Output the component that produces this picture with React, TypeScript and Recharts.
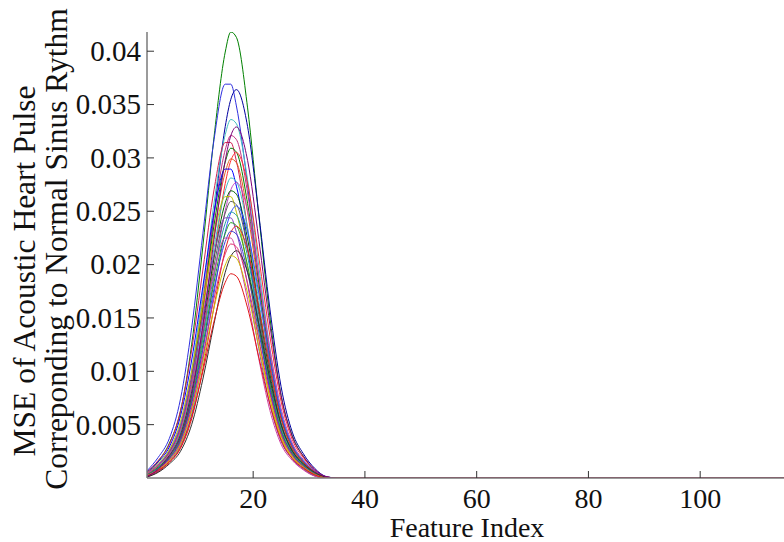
import React from "react";
import { Label, Line, LineChart, XAxis, YAxis } from "recharts";

const featureIndex = [1, 3, 5, 7, 9, 11, 13, 15, 16, 17, 19, 21, 23, 25, 27, 29, 31, 33, 35, 115];

const mse01 = [0.0004, 0.00155, 0.00326, 0.00627, 0.01254, 0.02174, 0.03198, 0.03992, 0.0418, 0.0413, 0.03469, 0.02466, 0.01505, 0.00773, 0.00397, 0.00201, 0.00067, 0.00004, 0, 0];
const mse02 = [0.00067, 0.00193, 0.00371, 0.00742, 0.0141, 0.02289, 0.03172, 0.03691, 0.03691, 0.03487, 0.02745, 0.01836, 0.01039, 0.00519, 0.00271, 0.00122, 0.0003, 0, 0, 0];
const mse03 = [0.00015, 0.00091, 0.00226, 0.0043, 0.00855, 0.01583, 0.02475, 0.03294, 0.03549, 0.0364, 0.03294, 0.02475, 0.01583, 0.00855, 0.0043, 0.00226, 0.00091, 0.00015, 0, 0];
const mse04 = [0.00032, 0.00125, 0.00263, 0.00506, 0.01011, 0.01752, 0.02578, 0.03218, 0.0336, 0.0332, 0.02797, 0.01988, 0.01213, 0.00623, 0.0032, 0.00162, 0.00054, 0.00003, 0, 0];
const mse05 = [0.00013, 0.00082, 0.00204, 0.00388, 0.00773, 0.01431, 0.02237, 0.02977, 0.03208, 0.0329, 0.02977, 0.02237, 0.01431, 0.00773, 0.00388, 0.00204, 0.00082, 0.00013, 0, 0];
const mse06 = [0.00031, 0.00119, 0.00251, 0.00483, 0.00966, 0.01674, 0.02463, 0.03075, 0.0321, 0.03172, 0.02673, 0.019, 0.01159, 0.00596, 0.00306, 0.00155, 0.00052, 0.00003, 0, 0];
const mse07 = [0.00057, 0.00164, 0.00316, 0.00632, 0.01201, 0.0195, 0.02702, 0.03144, 0.03144, 0.0297, 0.02338, 0.01564, 0.00885, 0.00442, 0.00231, 0.00104, 0.00025, 0, 0, 0];
const mse08 = [0.00029, 0.00115, 0.00242, 0.00465, 0.0093, 0.01612, 0.02372, 0.02961, 0.03091, 0.03054, 0.02573, 0.01829, 0.01116, 0.00574, 0.00295, 0.00149, 0.0005, 0.00003, 0, 0];
const mse09 = [0.00012, 0.00076, 0.00189, 0.0036, 0.00717, 0.01327, 0.02074, 0.0276, 0.02974, 0.0305, 0.0276, 0.02074, 0.01327, 0.00717, 0.0036, 0.00189, 0.00076, 0.00012, 0, 0];
const mse10 = [0.00029, 0.00111, 0.00234, 0.0045, 0.009, 0.0156, 0.02295, 0.02865, 0.02991, 0.02955, 0.0249, 0.0177, 0.0108, 0.00555, 0.00285, 0.00144, 0.00048, 0.00003, 0, 0];
const mse11 = [0.00052, 0.00151, 0.00291, 0.00582, 0.01106, 0.01795, 0.02488, 0.02895, 0.02895, 0.02735, 0.02153, 0.0144, 0.00815, 0.00407, 0.00212, 0.00096, 0.00023, 0, 0, 0];
const mse12 = [0.00027, 0.00104, 0.0022, 0.00423, 0.00846, 0.01466, 0.02157, 0.02693, 0.02812, 0.02778, 0.02341, 0.01664, 0.01015, 0.00522, 0.00268, 0.00135, 0.00045, 0.00003, 0, 0];
const mse13 = [0.00011, 0.00069, 0.00172, 0.00327, 0.00651, 0.01205, 0.01884, 0.02507, 0.02701, 0.0277, 0.02507, 0.01884, 0.01205, 0.00651, 0.00327, 0.00172, 0.00069, 0.00011, 0, 0];
const mse14 = [0.00026, 0.001, 0.00211, 0.00405, 0.0081, 0.01404, 0.02066, 0.02579, 0.02692, 0.0266, 0.02241, 0.01593, 0.00972, 0.005, 0.00257, 0.0013, 0.00043, 0.00003, 0, 0];
const mse15 = [0.00048, 0.00138, 0.00265, 0.0053, 0.01007, 0.01635, 0.02266, 0.02637, 0.02637, 0.02491, 0.01961, 0.01312, 0.00742, 0.00371, 0.00193, 0.00087, 0.00021, 0, 0, 0];
const mse16 = [0.00025, 0.00096, 0.00203, 0.0039, 0.0078, 0.01352, 0.01989, 0.02483, 0.02592, 0.02561, 0.02158, 0.01534, 0.00936, 0.00481, 0.00247, 0.00125, 0.00042, 0.00003, 0, 0];
const mse17 = [0.0001, 0.00064, 0.00158, 0.00301, 0.00599, 0.01109, 0.01734, 0.02308, 0.02486, 0.0255, 0.02308, 0.01734, 0.01109, 0.00599, 0.00301, 0.00158, 0.00064, 0.0001, 0, 0];
const mse18 = [0.00024, 0.00093, 0.00195, 0.00375, 0.0075, 0.013, 0.01913, 0.02388, 0.02493, 0.02463, 0.02075, 0.01475, 0.009, 0.00463, 0.00238, 0.0012, 0.0004, 0.00003, 0, 0];
const mse19 = [0.00044, 0.00127, 0.00245, 0.0049, 0.00931, 0.01512, 0.02095, 0.02438, 0.02438, 0.02303, 0.01813, 0.01213, 0.00686, 0.00343, 0.00179, 0.00081, 0.0002, 0, 0, 0];
const mse20 = [0.00023, 0.00089, 0.00187, 0.0036, 0.0072, 0.01248, 0.01836, 0.02292, 0.02393, 0.02364, 0.01992, 0.01416, 0.00864, 0.00444, 0.00228, 0.00115, 0.00038, 0.00002, 0, 0];
const mse21 = [0.00009, 0.00059, 0.00146, 0.00278, 0.00555, 0.01027, 0.01605, 0.02136, 0.02301, 0.0236, 0.02136, 0.01605, 0.01027, 0.00555, 0.00278, 0.00146, 0.00059, 0.00009, 0, 0];
const mse22 = [0.00022, 0.00086, 0.00181, 0.00348, 0.00696, 0.01206, 0.01775, 0.02216, 0.02313, 0.02285, 0.01926, 0.01369, 0.00835, 0.00429, 0.0022, 0.00111, 0.00037, 0.00002, 0, 0];
const mse23 = [0.00041, 0.00118, 0.00226, 0.00452, 0.00859, 0.01394, 0.01932, 0.02249, 0.02249, 0.02124, 0.01672, 0.01119, 0.00633, 0.00316, 0.00165, 0.00075, 0.00018, 0, 0, 0];
const mse24 = [0.00021, 0.00081, 0.00172, 0.0033, 0.0066, 0.01144, 0.01683, 0.02101, 0.02193, 0.02167, 0.01826, 0.01298, 0.00792, 0.00407, 0.00209, 0.00106, 0.00035, 0.00002, 0, 0];
const mse25 = [0.00009, 0.00053, 0.00132, 0.00251, 0.00501, 0.00927, 0.01448, 0.01928, 0.02077, 0.0213, 0.01928, 0.01448, 0.00927, 0.00501, 0.00251, 0.00132, 0.00053, 0.00009, 0, 0];
const mse26 = [0.0002, 0.00077, 0.00163, 0.00314, 0.00627, 0.01087, 0.01599, 0.01996, 0.02084, 0.02059, 0.01735, 0.01233, 0.00752, 0.00387, 0.00199, 0.001, 0.00033, 0.00002, 0, 0];
const mse27 = [0.00018, 0.00071, 0.0015, 0.00288, 0.00576, 0.00998, 0.01469, 0.01834, 0.01914, 0.01891, 0.01594, 0.01133, 0.00691, 0.00355, 0.00182, 0.00092, 0.00031, 0.00002, 0, 0];

// draw order: the purple curve goes last so it sits on top along the zero line
const curves = [
  mse01, mse02, mse03, mse04, mse06, mse07, mse08, mse09, mse10,
  mse11, mse12, mse13, mse14, mse15, mse16, mse17, mse18, mse19,
  mse20, mse21, mse22, mse23, mse24, mse25, mse26, mse27, mse05,
];
const curveColors = [
  "#008000", "#3030e0", "#0000a0", "#40c0c0", "#c03080", "#d02050", "#008000", "#ff3030", "#e06020",
  "#0000ff", "#40c0c0", "#c040c0", "#006000", "#c0c000", "#606060", "#3050ff", "#20a0a0", "#8040c0",
  "#20a020", "#e02020", "#4040d0", "#d040a0", "#e0306a", "#303030", "#d0c000", "#e01818", "#7a007a",
];

const xTicks = [20, 40, 60, 80, 100];
const yTicks = [0.005, 0.01, 0.015, 0.02, 0.025, 0.03, 0.035, 0.04];

const rows = featureIndex.map((x, i) => {
  const row: Record<string, number> = { x };
  curves.forEach((c, k) => {
    row[`c${k}`] = c[i];
  });
  return row;
});

const FONT = "'Liberation Serif', 'Times New Roman', serif";

function XTick(props: any) {
  const { x, y, payload } = props;
  return (
    <g>
      <line x1={x} x2={x} y1={y} y2={y - 7} stroke="#333" />
      <text x={x} y={y + 30} textAnchor="middle" fontSize={28} fontFamily={FONT} fill="#111">
        {payload.value}
      </text>
    </g>
  );
}

function YTick(props: any) {
  const { x, y, payload } = props;
  return (
    <g>
      <line x1={x} x2={x + 7} y1={y} y2={y} stroke="#333" />
      <text x={x - 6} y={y} dy="0.34em" textAnchor="end" fontSize={29} fontFamily={FONT} fill="#111">
        {String(payload.value)}
      </text>
    </g>
  );
}

function YTitle() {
  return (
    <g fontFamily={FONT} fontSize={31.5} fill="#111">
      <text x={35} y={271} textAnchor="middle" transform="rotate(-90, 35, 271)">
        MSE of Acoustic Heart Pulse
      </text>
      <text x={67} y={249} textAnchor="middle" transform="rotate(-90, 67, 249)">
        Correponding to Normal Sinus Rythm
      </text>
    </g>
  );
}

function XTitle() {
  return (
    <text x={467} y={537} textAnchor="middle" fontFamily={FONT} fontSize={28} fill="#111">
      Feature Index
    </text>
  );
}

export default function App() {
  return (
    <div style={{ position: "absolute", left: 0, top: 0, width: 784, height: 542, background: "#fff" }}>
      <LineChart width={784} height={542} data={rows} margin={{ top: 32, right: 0, bottom: 0, left: 0 }}>
        <XAxis
          dataKey="x"
          type="number"
          domain={[1, 115]}
          ticks={xTicks}
          allowDataOverflow
          height={64}
          tickSize={0}
          tickMargin={0}
          tickLine={false}
          axisLine={{ stroke: "#7a7a7a", strokeWidth: 1.5 }}
          tick={<XTick />}
        >
          <Label content={<XTitle />} />
        </XAxis>
        <YAxis
          type="number"
          domain={[0, 0.0418]}
          ticks={yTicks}
          allowDataOverflow
          width={147}
          tickSize={0}
          tickMargin={0}
          tickLine={false}
          axisLine={{ stroke: "#7a7a7a", strokeWidth: 1.5 }}
          tick={<YTick />}
        >
          <Label content={<YTitle />} />
        </YAxis>
        {curves.map((_, k) => (
          <Line
            key={k}
            dataKey={`c${k}`}
            type="monotone"
            stroke={curveColors[k]}
            strokeWidth={1}
            dot={false}
            activeDot={false}
            isAnimationActive={false}
          />
        ))}
      </LineChart>
    </div>
  );
}
